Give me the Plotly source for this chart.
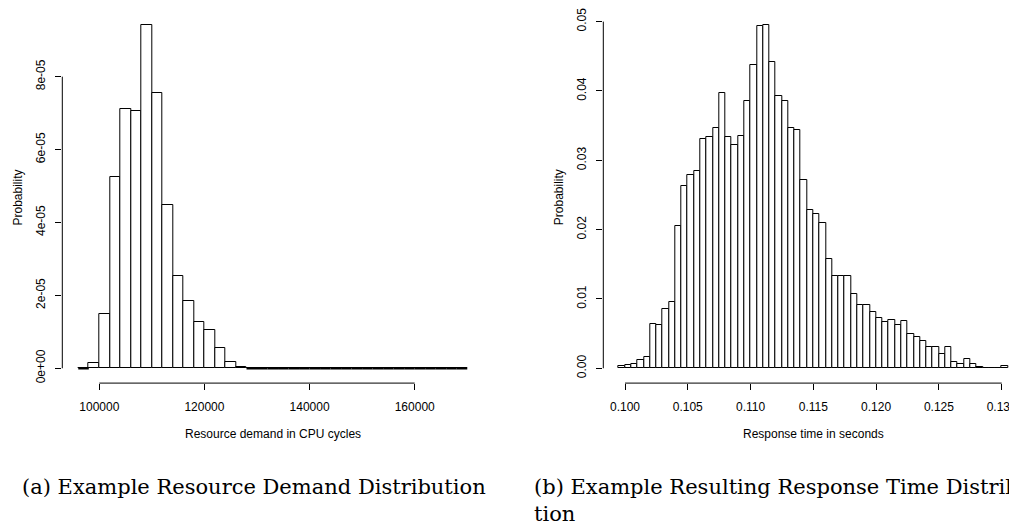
import plotly.graph_objects as go

WIN_W, WIN_H = 1017, 528
OFF = 8                      # default page body margin in the browser
W, H = WIN_W - OFF, WIN_H - OFF

# ---------------- data ----------------
# (a) Resource demand histogram (density), bins of 2000 cycles from 96000 to 170000
demand_bin_start = 96000
demand_bin_width = 2000
demand_density = [
    0.0, 1.5e-6, 1.50e-5, 5.24e-5, 7.12e-5, 7.07e-5, 9.42e-5, 7.56e-5,
    4.48e-5, 2.53e-5, 1.85e-5, 1.26e-5, 1.04e-5, 0.55e-5, 0.18e-5, 0.03e-5,
] + [0.0] * 21
demand_ticks = [100000, 120000, 140000, 160000]
demand_yticks = [0, 2e-5, 4e-5, 6e-5, 8e-5]
demand_yticklabels = ["0e+00", "2e-05", "4e-05", "6e-05", "8e-05"]

# (b) Response time histogram (probability per bin), bins of 0.0005 s from 0.0995
resp_bin_start = 0.0995
resp_bin_width = 0.0005
resp_prob = [
    0.00033, 0.00048, 0.00057, 0.0012, 0.0016, 0.0064, 0.0062, 0.0085, 0.0095,
    0.0205, 0.0263, 0.0279, 0.0285, 0.0330, 0.0333, 0.0347, 0.0397, 0.0333,
    0.0322, 0.0335, 0.0385, 0.0438, 0.0494, 0.0495, 0.0442, 0.0392, 0.0386,
    0.0347, 0.0344, 0.0271, 0.0228, 0.0222, 0.0209, 0.0157, 0.0133, 0.0133,
    0.0133, 0.0107, 0.0091, 0.0091, 0.0081, 0.0073, 0.0067, 0.0069, 0.0063,
    0.0068, 0.0050, 0.0045, 0.0040, 0.0031, 0.0031, 0.0020, 0.0031, 0.00096,
    0.0006, 0.0014, 0.0006, 0.00024, 0.00006, 0.0001, 0.0001, 0.0003,
]
resp_ticks = [0.100, 0.105, 0.110, 0.115, 0.120, 0.125, 0.130]
resp_yticks = [0.00, 0.01, 0.02, 0.03, 0.04, 0.05]

x_title_a = "Resource demand in CPU cycles"
x_title_b = "Response time in seconds"
y_title = "Probability"
caption_a = "(a) Example Resource Demand Distribution"
caption_b = "(b) Example Resulting Response Time Distribu-<br>tion"

# ---------------- layout helpers (window pixel geometry) ----------------
def px_x(p):
    return (p - OFF) / W

def px_y(p):
    return 1 - (p - OFF) / H

def lin_range(v0, p0, v1, p1, pa, pb):
    s = (v1 - v0) / (p1 - p0)
    return [v0 + (pa - p0) * s, v0 + (pb - p0) * s]

# left panel
A_dom_x = (62.3, 482.8)
A_dom_y = (381.7, 8.0)   # bottom px, top px
A_xr = lin_range(100000, 99.3, 160000, 414.7, A_dom_x[0], A_dom_x[1])
A_yr = lin_range(0, 366.7, 8e-5, 72.3, A_dom_y[0], A_dom_y[1])
# right panel
B_dom_x = (603.3, 1017.0)
B_dom_y = (381.7, 8.0)
B_xr = lin_range(0.100, 625.0, 0.130, 1001.7, B_dom_x[0], B_dom_x[1])
B_yr = lin_range(0, 366.7, 0.05, 16.7, B_dom_y[0], B_dom_y[1])

# ---------------- traces ----------------
def centers(start, width, n):
    return [start + width * (i + 0.5) for i in range(n)]

fig = go.Figure()

bar_style = dict(marker=dict(color="white", line=dict(color="black", width=1)), showlegend=False, hoverinfo="skip")

fig.add_trace(go.Bar(
    x=centers(demand_bin_start, demand_bin_width, len(demand_density)),
    y=demand_density, width=demand_bin_width, xaxis="x", yaxis="y", **bar_style))

# zero-height bins are drawn by R as flat lines along the baseline
zx, zy = [], []
for i, h in enumerate(demand_density):
    if h == 0:
        x0 = demand_bin_start + i * demand_bin_width
        zx += [x0, x0 + demand_bin_width, None]
        zy += [h, h, None]
fig.add_trace(go.Scatter(x=zx, y=zy, mode="lines", line=dict(color="black", width=2.5),
                         xaxis="x", yaxis="y", showlegend=False, hoverinfo="skip"))

fig.add_trace(go.Bar(
    x=centers(resp_bin_start, resp_bin_width, len(resp_prob)),
    y=resp_prob, width=resp_bin_width, xaxis="x2", yaxis="y2", **bar_style))

tickfont = dict(family="Liberation Sans, Arial, sans-serif", size=12, color="black")
axis_common = dict(showgrid=False, zeroline=False, showline=False, ticks="outside",
                   ticklen=6, tickwidth=1, tickcolor="black", tickfont=tickfont,
                   ticklabeloverflow="allow", ticklabelstandoff=6)

fig.update_layout(
    width=W, height=H,
    margin=dict(l=0, r=0, t=0, b=0),
    paper_bgcolor="white", plot_bgcolor="white",
    bargap=0,
    xaxis=dict(domain=[px_x(A_dom_x[0]), px_x(A_dom_x[1])], range=A_xr, anchor="y",
               tickvals=demand_ticks, ticktext=[str(t) for t in demand_ticks], **axis_common),
    yaxis=dict(domain=[px_y(A_dom_y[0]), px_y(A_dom_y[1])], range=A_yr, anchor="x",
               tickvals=demand_yticks, ticktext=demand_yticklabels, tickangle=-90, **axis_common),
    xaxis2=dict(domain=[px_x(B_dom_x[0]), min(1.0, px_x(B_dom_x[1]))], range=B_xr, anchor="y2",
                tickvals=resp_ticks, ticktext=["%.3f" % t for t in resp_ticks], **axis_common),
    yaxis2=dict(domain=[px_y(B_dom_y[0]), px_y(B_dom_y[1])], range=B_yr, anchor="x2",
                tickvals=resp_yticks, ticktext=["%.2f" % t for t in resp_yticks], tickangle=-90,
                **axis_common),
)

# axis lines spanning only the tick range (R style)
line = dict(color="black", width=1)
shapes = [
    dict(type="line", xref="x", yref="y domain", x0=demand_ticks[0], x1=demand_ticks[-1], y0=0, y1=0, line=line),
    dict(type="line", xref="x domain", yref="y", x0=0, x1=0, y0=demand_yticks[0], y1=demand_yticks[-1], line=line),
    dict(type="line", xref="x2", yref="y2 domain", x0=resp_ticks[0], x1=resp_ticks[-1], y0=0, y1=0, line=line),
    dict(type="line", xref="x2 domain", yref="y2", x0=0, x1=0, y0=resp_yticks[0], y1=resp_yticks[-1], line=line),
]
fig.update_layout(shapes=shapes)

labfont = dict(family="Liberation Sans, Arial, sans-serif", size=12, color="black")
capfont = dict(family="DejaVu Serif, serif", size=21, color="black")
ann = [
    dict(text=x_title_a, x=px_x(272.6), y=px_y(432.7), xref="paper", yref="paper",
         showarrow=False, xanchor="center", yanchor="middle", font=labfont),
    dict(text=x_title_b, x=px_x(813.5), y=px_y(432.7), xref="paper", yref="paper",
         showarrow=False, xanchor="center", yanchor="middle", font=labfont),
    dict(text=y_title, x=px_x(18.3), y=px_y(194), xref="paper", yref="paper", textangle=-90,
         showarrow=False, xanchor="center", yanchor="middle", font=labfont),
    dict(text=y_title, x=px_x(559), y=px_y(194), xref="paper", yref="paper", textangle=-90,
         showarrow=False, xanchor="center", yanchor="middle", font=labfont),
    dict(text=caption_a, x=px_x(20), y=px_y(487), xref="paper", yref="paper",
         showarrow=False, xanchor="left", yanchor="middle", font=capfont, align="left"),
    dict(text=caption_b, x=px_x(532), y=px_y(472), xref="paper", yref="paper",
         showarrow=False, xanchor="left", yanchor="top", font=capfont, align="left"),
]
fig.update_layout(annotations=ann)

fig.write_html("out.html")
